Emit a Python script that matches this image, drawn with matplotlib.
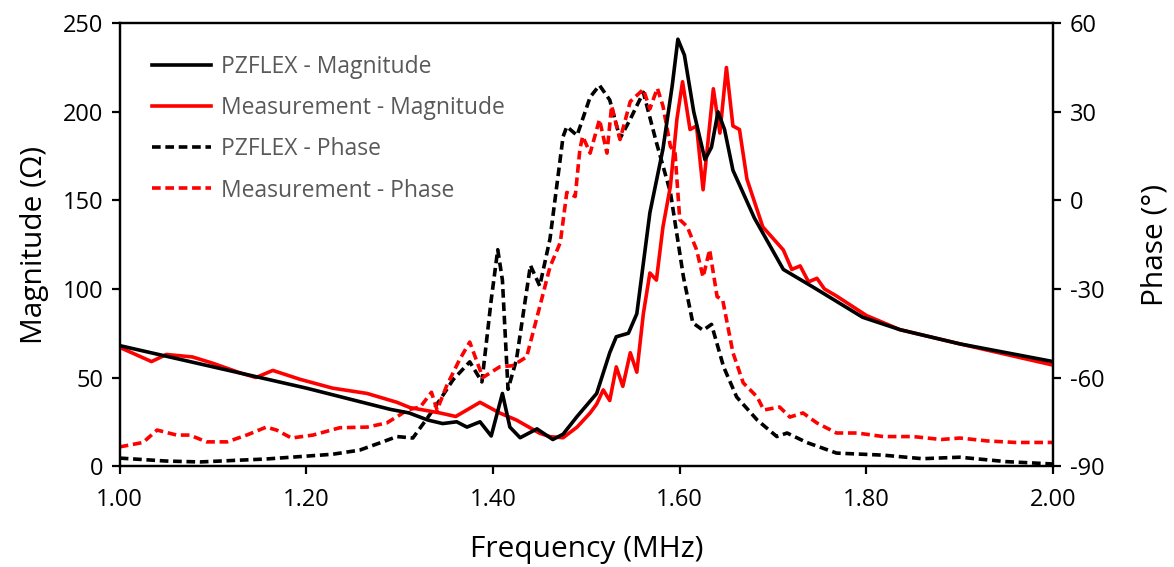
import matplotlib
matplotlib.use("Agg")
import matplotlib.pyplot as plt
from matplotlib.lines import Line2D

plt.rcParams['font.family'] = ['Open Sans', 'DejaVu Sans']
plt.rcParams['axes.unicode_minus'] = False

# ---- data ----
pz_mag_f = [1.00, 1.10, 1.20, 1.29, 1.31, 1.33, 1.346, 1.361, 1.372, 1.386, 1.398, 1.41,
            1.418, 1.429, 1.447, 1.464, 1.475, 1.49, 1.511, 1.525, 1.532, 1.545, 1.554,
            1.568, 1.582, 1.592, 1.598, 1.605, 1.615, 1.627, 1.634, 1.641, 1.648, 1.657,
            1.68, 1.711, 1.743, 1.796, 1.836, 1.90, 1.95, 2.00]
pz_mag = [68, 56, 44, 32, 30, 26, 24, 25, 22, 25, 17, 41,
          22, 16, 21, 15, 18, 28, 41, 64, 73, 75, 86,
          143, 179, 215, 241, 232, 200, 173, 180, 200, 190, 167,
          140, 111, 101, 84, 77, 69, 64, 59]

ms_mag_f = [1.00, 1.034, 1.05, 1.078, 1.10, 1.129, 1.146, 1.164, 1.193, 1.228, 1.265, 1.297,
            1.311, 1.343, 1.36, 1.386, 1.407, 1.425, 1.45, 1.461, 1.475, 1.49, 1.504, 1.511,
            1.518, 1.525, 1.532, 1.539, 1.547, 1.554, 1.561, 1.568, 1.575, 1.582, 1.59,
            1.597, 1.603, 1.611, 1.618, 1.625, 1.636, 1.643, 1.65, 1.657, 1.664, 1.672,
            1.689, 1.711, 1.72, 1.729, 1.738, 1.747, 1.755, 1.768, 1.80, 1.836, 1.90, 1.95, 2.00]
ms_mag = [67, 59, 63, 61.6, 58, 52.6, 50, 54, 49, 44, 41, 36,
          33, 30, 28, 36, 30, 26, 18.5, 16.6, 16, 22, 30, 35,
          43, 37, 56, 45, 64, 53, 86, 109, 105, 135, 158,
          196, 217, 190, 192, 156, 213, 188, 225, 192, 190, 162,
          135, 122, 111, 113, 104, 106, 100, 96, 85, 77, 69, 63, 57]

pz_ph_f = [1.00, 1.05, 1.086, 1.157, 1.228, 1.257, 1.28, 1.297, 1.314, 1.329, 1.343, 1.357,
           1.375, 1.388, 1.398, 1.405, 1.41, 1.416, 1.425, 1.44, 1.45, 1.461, 1.475, 1.479,
           1.49, 1.504, 1.514, 1.525, 1.536, 1.547, 1.561, 1.575, 1.59, 1.604, 1.614, 1.625,
           1.634, 1.647, 1.661, 1.683, 1.704, 1.715, 1.736, 1.768, 1.818, 1.86, 1.90, 1.95, 2.00]
pz_ph = [-87.3, -88.3, -88.6, -87.6, -86, -84.6, -82, -80, -80.5, -74, -67.6, -60.8,
         -54.7, -61.5, -33.7, -16.7, -27, -64, -54, -22, -29, -13, 21.6, 25,
         22, 35, 39, 34, 21, 27.5, 36.6, 19.6, 2.7, -26, -41.5, -44,
         -42, -56.4, -66.6, -74.4, -80, -78.8, -82, -85.6, -86.3, -87.5, -87, -88.5, -89.3]

ms_ph_f = [1.00, 1.025, 1.04, 1.061, 1.075, 1.093, 1.115, 1.136, 1.157, 1.168, 1.184, 1.207,
           1.236, 1.265, 1.286, 1.30, 1.308, 1.322, 1.334, 1.34, 1.35, 1.364, 1.375, 1.389,
           1.407, 1.421, 1.436, 1.45, 1.461, 1.472, 1.479, 1.488, 1.493, 1.496, 1.504, 1.514,
           1.522, 1.527, 1.536, 1.547, 1.561, 1.568, 1.576, 1.582, 1.59, 1.595, 1.60, 1.608,
           1.618, 1.625, 1.632, 1.64, 1.646, 1.657, 1.668, 1.683, 1.69, 1.707, 1.718, 1.732,
           1.747, 1.768, 1.79, 1.818, 1.85, 1.88, 1.90, 1.93, 1.96, 2.00]
ms_ph = [-83.5, -82, -77.8, -79.5, -79.5, -81.8, -81.8, -79.5, -76.8, -77.8, -80.5, -79.5,
         -77, -76.8, -75.4, -72.7, -71, -70, -65, -71, -63, -54, -48, -60,
         -56.4, -56, -53, -36, -22.5, -14.3, 2.7, 1.3, 17.3, 21.7, 16, 27.4,
         16, 32, 20.6, 33.5, 37.6, 31, 38, 32, 18.3, 16, -6.5, -8.9,
         -16.7, -26, -16.7, -32.6, -33.7, -51.6, -61.8, -66.6, -71, -70, -73.4, -72,
         -75.4, -78.8, -78.8, -80, -80, -81, -80.5, -81.5, -82, -82]

labels = ["PZFLEX - Magnitude", "Measurement - Magnitude", "PZFLEX - Phase", "Measurement - Phase"]
x_ticks = [1.00, 1.20, 1.40, 1.60, 1.80, 2.00]
mag_ticks = [0, 50, 100, 150, 200, 250]
ph_ticks = [-90, -60, -30, 0, 30, 60]

# ---- figure ----
fig = plt.figure(figsize=(11.74, 5.67), dpi=100)
ax = fig.add_axes([0.102, 0.178, 0.795, 0.781])
ax2 = ax.twinx()

lw = 2.6
dash = (2.4, 1.3)
ax2.plot(pz_ph_f, pz_ph, color='black', lw=lw, dashes=dash)
ax2.plot(ms_ph_f, ms_ph, color='#FF0000', lw=lw, dashes=dash)
ax.plot(ms_mag_f, ms_mag, color='#FF0000', lw=lw)
ax.plot(pz_mag_f, pz_mag, color='black', lw=lw)
ax.set_zorder(ax2.get_zorder() + 1)
ax.patch.set_visible(False)

ax.set_xlim(1.0, 2.0)
ax.set_ylim(0, 250)
ax2.set_ylim(-90, 60)
ax.set_xticks(x_ticks)
ax.set_xticklabels([f"{v:.2f}" for v in x_ticks])
ax.set_yticks(mag_ticks)
ax2.set_yticks(ph_ticks)

for a in (ax, ax2):
    for s in a.spines.values():
        s.set_linewidth(1.6)
    a.tick_params(direction='out', length=6, width=1.6, labelsize=17, colors='black', pad=6)
ax.tick_params(axis='x', pad=10)

ax.set_xlabel("Frequency (MHz)", fontsize=21.5, labelpad=16)
ax.set_ylabel("Magnitude (\u03a9)", fontsize=21.5, labelpad=10)
ax2.set_ylabel("Phase (\u00b0)", fontsize=21.5, labelpad=26)

handles = [Line2D([], [], color='black', lw=lw),
           Line2D([], [], color='#FF0000', lw=lw),
           Line2D([], [], color='black', lw=lw, dashes=dash),
           Line2D([], [], color='#FF0000', lw=lw, dashes=dash)]
leg = ax.legend(handles, labels, loc='upper left', bbox_to_anchor=(0.012, 0.975),
                frameon=False, fontsize=16.5, handlelength=2.6, labelspacing=0.75,
                handletextpad=0.45, labelcolor='#595959')

fig.savefig("out.png", dpi=100)
